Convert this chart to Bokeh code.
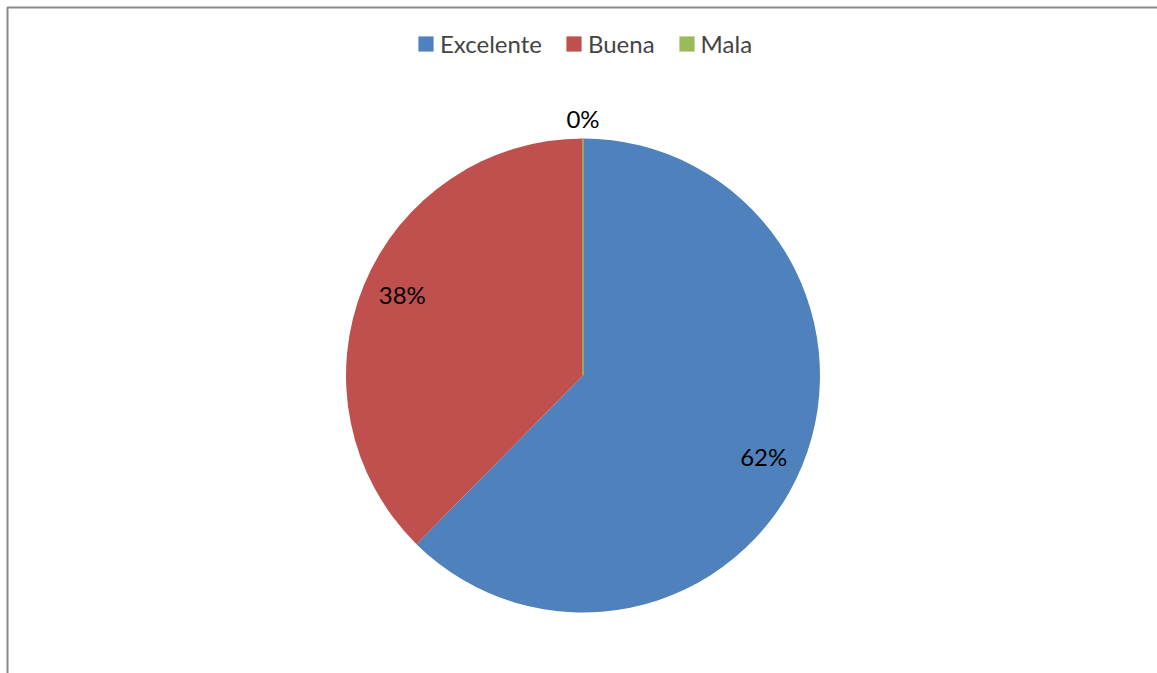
import math
from bokeh.plotting import figure
from bokeh.models import ColumnDataSource, Legend, LegendItem, Range1d, BoxAnnotation
from bokeh.core.properties import value
from bokeh.embed import file_html
from bokeh.resources import INLINE

# ---- data ----
categories = ["Excelente", "Buena", "Mala"]
shares = [62.4, 37.6, 0]
colors = ["#4F81BD", "#C0504D", "#9BBB59"]

# ---- layout ----
W, H = 1157, 673
R = 237
cx_px, cy_px = 582.5, 375  # pie centre in canvas pixels (from top-left)
FONT = "Lato"

total = float(sum(shares))
starts, ends, mids = [], [], []
cum = 0.0
for v in shares:
    a0 = math.pi / 2 - 2 * math.pi * cum / total
    cum += v
    a1 = math.pi / 2 - 2 * math.pi * cum / total
    starts.append(a0)
    ends.append(a1)
    mids.append((a0 + a1) / 2)

radii = [R if v > 0 else 0 for v in shares]
lab_r = [R * 1.085 if v == 0 else R * 0.835 for v in shares]
lab_a = [m if v == 0 else m - 0.03 for v, m in zip(shares, mids)]
lx = [r * math.cos(a) for r, a in zip(lab_r, lab_a)]
ly = [r * math.sin(a) for r, a in zip(lab_r, lab_a)]
labels = ["%d%%" % round(100 * v / total) for v in shares]

src = ColumnDataSource(dict(cat=categories, start=starts, end=ends, color=colors,
                            rad=radii, lx=lx, ly=ly, lab=labels))

p = figure(width=W, height=H, output_backend="svg", toolbar_location=None,
           x_range=Range1d(-cx_px, W - cx_px), y_range=Range1d(-(H - cy_px), cy_px),
           min_border=0, match_aspect=False)
p.axis.visible = False
p.grid.visible = False
p.outline_line_color = None
p.background_fill_color = "white"
p.border_fill_color = "white"

# chart frame (only left and top edges fall inside the picture)
p.add_layout(BoxAnnotation(left=-cx_px + 7, top=cy_px - 7,
                           right=W - cx_px + 20, bottom=-(H - cy_px) - 20,
                           fill_alpha=0, line_color="#8a8a8a", line_alpha=1.0,
                           line_width=2))

wr = p.wedge(x=0, y=0, radius="rad", start_angle="start", end_angle="end",
             direction="clock", fill_color="color", line_color=None, source=src)

# zero-value slices show as a thin line
for i, v in enumerate(shares):
    if v == 0:
        p.segment(x0=[0], y0=[0], x1=[R * math.cos(starts[i])], y1=[R * math.sin(starts[i])],
                  line_color=colors[i], line_width=1.5)

p.text(x="lx", y="ly", text="lab", source=src, text_align="center", text_baseline="middle",
       text_font=value(FONT), text_font_size="24px", text_color="black")

items = [LegendItem(label=c, renderers=[wr], index=i) for i, c in enumerate(categories)]
legend = Legend(items=items, orientation="horizontal", location=(416, H - 29 - 29),
                border_line_color=None, background_fill_alpha=0,
                label_text_font=FONT, label_text_font_size="24px",
                glyph_width=19, glyph_height=19, label_standoff=5, spacing=22,
                padding=0, margin=0)
p.add_layout(legend, "center")

open("out.html", "w").write(file_html(p, INLINE))
